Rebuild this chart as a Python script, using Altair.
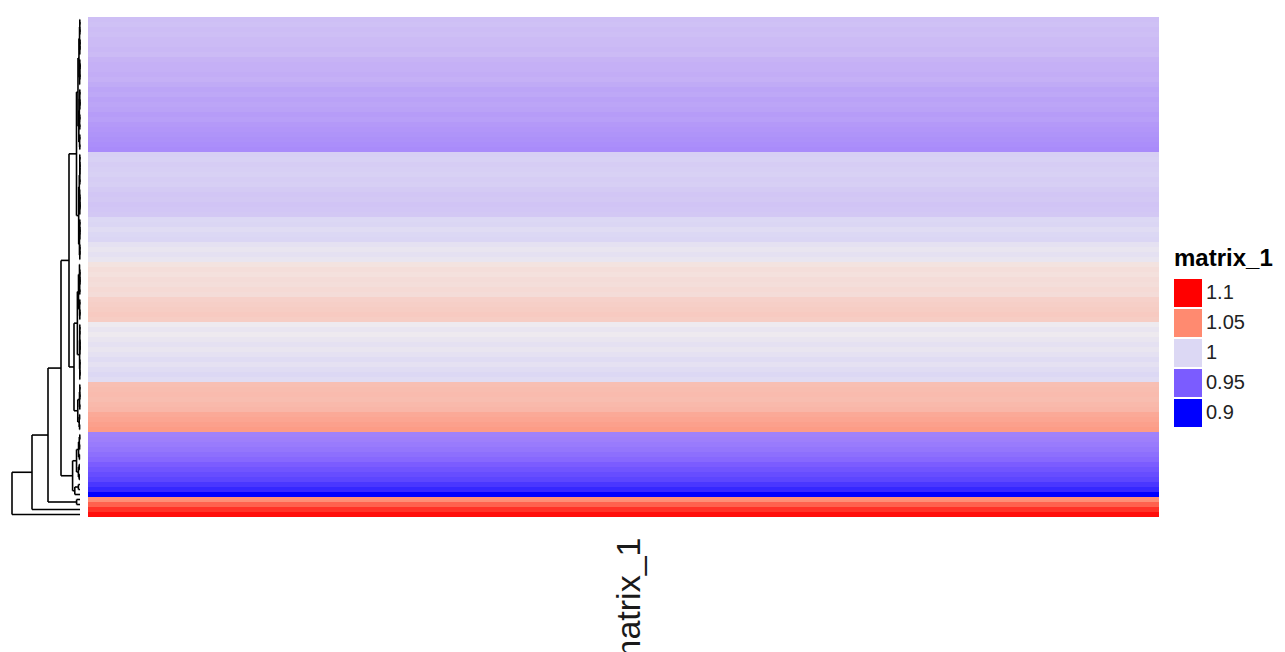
import altair as alt
import pandas as pd

# ---------------- data (row values, top to bottom) ----------------
purple = [0.989, 0.990, 0.988, 0.989, 0.987,
          0.987, 0.986, 0.987, 0.984, 0.983,
          0.983, 0.982, 0.983, 0.981,
          0.979, 0.980, 0.978, 0.979, 0.978,
          0.976, 0.977, 0.975,
          0.974, 0.973, 0.972, 0.971, 0.970]
lavender = [0.996, 0.997, 0.995, 0.996, 0.997, 0.995, 0.996, 0.994,
            0.992, 0.993, 0.991, 0.992, 0.993,
            1.000, 0.999, 1.001, 1.000, 0.999,
            1.002, 1.003, 1.002, 1.003]
pink_grey = [1.010, 1.012, 1.011, 1.013, 1.012, 1.014, 1.013,
             1.018, 1.019, 1.020, 1.021, 1.020,
             1.004, 1.003, 1.004, 1.003, 1.002, 1.003, 1.002, 1.001,
             1.002, 1.001, 1.000, 1.001]
salmon = [1.026, 1.027, 1.028, 1.027, 1.029, 1.030, 1.036, 1.038, 1.040, 1.042]
blue = [0.966, 0.965, 0.963, 0.961, 0.958, 0.955, 0.950, 0.946, 0.942,
        0.938, 0.930, 0.922, 0.900]
red = [1.048, 1.065, 1.082, 1.095]
values = purple + lavender + pink_grey + salmon + blue + red
column_name = "matrix_1"

# dendrogram: row blocks and the merges between them (hclust-style)
block_start = [0, 27, 49, 73, 83, 96, 98, 99]
block_end = [26, 48, 72, 82, 95, 97, 98, 99]
merge_left = [-1, -3, 1, 3, 4, 5, 6]
merge_right = [-2, -4, 2, -5, -6, -7, -8]
merge_height = [3.5, 6, 11, 19, 32, 48, 68]
K = 200  # value distance -> height units inside blocks

legend_values = [1.1, 1.05, 1.0, 0.95, 0.9]
color_domain = [0.9, 0.95, 0.97, 0.985, 1.0, 1.005, 1.05, 1.1]
color_range = ["#0000FF", "#7B5CFF", "#A98BFA", "#C9B6F5", "#DCD8F4",
               "#F2EEEE", "#FF8A70", "#FF0000"]

# ---------------- dendrogram segments ----------------
segs = []


def link(a, b, h):
    segs.append(dict(x=h, x2=h, y=a["y"], y2=b["y"]))
    segs.append(dict(x=a["h"], x2=h, y=a["y"], y2=a["y"]))
    segs.append(dict(x=b["h"], x2=h, y=b["y"], y2=b["y"]))
    n = a["n"] + b["n"]
    return dict(y=(a["y"] + b["y"]) / 2, h=h, n=n,
                m=(a["m"] * a["n"] + b["m"] * b["n"]) / n)


def cluster_block(lo, hi):
    nodes = [dict(y=i + 0.5, h=0.0, n=1, m=values[i]) for i in range(lo, hi + 1)]
    while len(nodes) > 1:
        d = [abs(nodes[j]["m"] - nodes[j + 1]["m"]) for j in range(len(nodes) - 1)]
        j = d.index(min(d))
        a, b = nodes[j], nodes[j + 1]
        nodes[j:j + 2] = [link(a, b, max(d[j] * K, a["h"], b["h"]))]
    return nodes[0]


blocks = [cluster_block(s, e) for s, e in zip(block_start, block_end)]
merged = []
for l, r, h in zip(merge_left, merge_right, merge_height):
    a = blocks[-l - 1] if l < 0 else merged[l - 1]
    b = blocks[-r - 1] if r < 0 else merged[r - 1]
    merged.append(link(a, b, h))

seg_df = pd.DataFrame(segs)
heat_df = pd.DataFrame({"row": list(range(len(values))),
                        "col": [column_name] * len(values),
                        "value": values})
n_rows = len(values)

# ---------------- charts ----------------
dend = alt.Chart(seg_df).mark_rule(color="black", strokeWidth=1.6).encode(
    x=alt.X("x:Q", scale=alt.Scale(domain=[0, 70], reverse=True, nice=False, zero=False), axis=None),
    x2="x2:Q",
    y=alt.Y("y:Q", scale=alt.Scale(domain=[0, n_rows], reverse=True, nice=False, zero=False), axis=None),
    y2="y2:Q",
).properties(width=70, height=500)

heat = alt.Chart(heat_df).mark_rect().encode(
    x=alt.X("col:N", scale=alt.Scale(paddingInner=0, paddingOuter=0),
            axis=alt.Axis(title=None, labelAngle=-90, labelFontSize=34,
                          labelFont="Liberation Sans", labelColor="#1a1a1a",
                          domain=False, ticks=False, tickSize=0, labelPadding=20,
                          labelOffset=6)),
    y=alt.Y("row:O", scale=alt.Scale(paddingInner=0, paddingOuter=0), axis=None),
    color=alt.Color("value:Q",
                    scale=alt.Scale(domain=color_domain, range=color_range,
                                    interpolate="rgb", clamp=True),
                    legend=alt.Legend(type="symbol", values=legend_values, title="matrix_1",
                                      titleFont="Liberation Sans", titleFontSize=24,
                                      titleFontWeight="bold", titleColor="black",
                                      labelFont="Liberation Sans", labelFontSize=20,
                                      labelColor="#222222", symbolType="square",
                                      symbolSize=784, symbolStrokeWidth=0, rowPadding=2,
                                      labelOffset=4, titlePadding=8, format="~g",
                                      orient="none", legendX=1164, legendY=230)),
).properties(width=1071, height=500)

chart = alt.hconcat(dend, heat, spacing=7).properties(
    padding={"left": 2, "top": 9, "right": 0, "bottom": 0},
    background="white",
).configure_view(stroke=None)

chart.save("out.html", embed_options={"renderer": "svg", "actions": False})
